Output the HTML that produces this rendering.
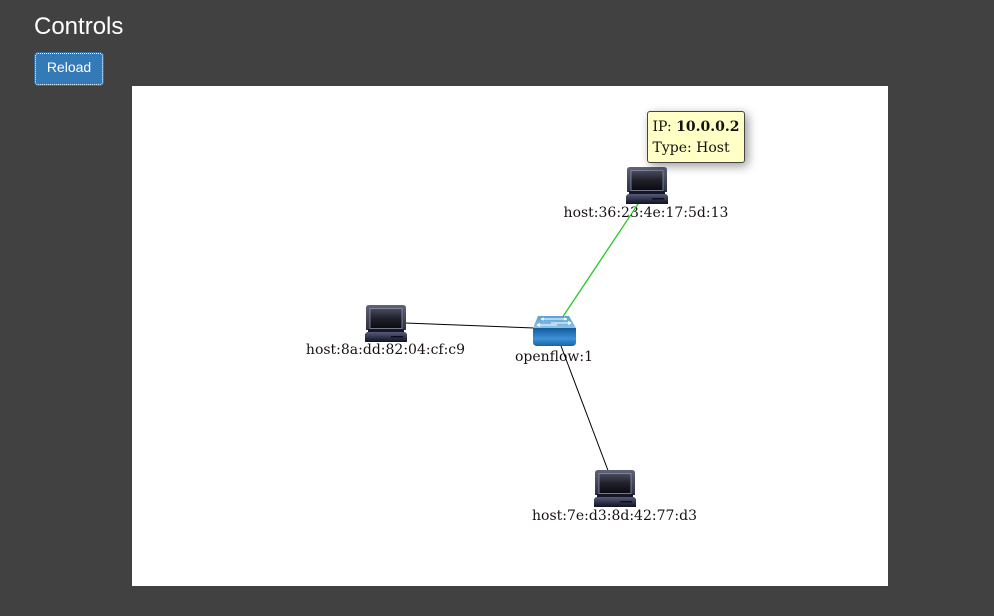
<!DOCTYPE html>
<html><head><meta charset="utf-8"><style>
html,body{margin:0;padding:0;width:994px;height:616px;overflow:hidden;background:#414141}
body{position:relative;font-family:"Liberation Sans",sans-serif}
h3{position:absolute;left:34px;top:14px;margin:0;font-size:24px;line-height:26px;font-weight:400;color:#fff}
.btn{position:absolute;left:34px;top:52px;width:70px;height:34px;box-sizing:border-box;background:#337ab7;border:1px solid #2e6da4;border-radius:4px;color:#fff;font-size:14px;line-height:29px;text-align:center;outline:1px dotted #fff;outline-offset:-2px}
#c{position:absolute;left:132px;top:86px;width:756px;height:500px;background:#fff}
svg{position:absolute;left:0;top:0}
text{font-family:"DejaVu Serif",serif;font-size:14px;fill:#1a1212;text-anchor:middle}
.tip{position:absolute;left:647px;top:111px;width:98px;height:52px;box-sizing:border-box;background:#ffffc6;border:1px solid #444;border-radius:3px;box-shadow:3px 3px 10px rgba(0,0,0,.4);padding:5px 0 0 4.5px;font:14px/21px "DejaVu Serif",serif;color:#111;white-space:nowrap}
</style></head><body>
<h3>Controls</h3>
<div class="btn">Reload</div>
<div id="c"></div>
<svg width="994" height="616" viewBox="0 0 994 616">
<defs>
<linearGradient id="sc" x1="0" y1="0" x2="0" y2="1"><stop offset="0" stop-color="#4a4d60"/><stop offset=".5" stop-color="#1f2029"/><stop offset="1" stop-color="#0a0a12"/></linearGradient>
<linearGradient id="bd" x1="0" y1="0" x2="0" y2="1"><stop offset="0" stop-color="#5f6379"/><stop offset="1" stop-color="#2c2e42"/></linearGradient>
<linearGradient id="ba" x1="0" y1="0" x2="0" y2="1"><stop offset="0" stop-color="#555a75"/><stop offset="1" stop-color="#101224"/></linearGradient>
<linearGradient id="sw" x1="0" y1="0" x2="0" y2="1"><stop offset="0" stop-color="#135b9c"/><stop offset=".6" stop-color="#3b92d8"/><stop offset="1" stop-color="#1b639f"/></linearGradient>
<linearGradient id="st" x1="0" y1="0" x2="0" y2="1"><stop offset="0" stop-color="#5ba0d5"/><stop offset="1" stop-color="#8cc2e6"/></linearGradient>
<g id="h">
<path d="M-17-19h34q3 0 3 3v22h-40v-22q0-3 3-3z" fill="url(#bd)"/>
<rect x="-16" y="-15.500" width="32" height="20" fill="url(#sc)" stroke="#8d90a3" stroke-width=".8"/>
<rect x="-18" y="5" width="36" height="3" fill="#15162a"/>
<path d="M-19 8h38l2 2v8h-42v-8z" fill="url(#ba)"/>
<rect x="5" y="12" width="12" height="1.500" fill="#0c0d18"/>
</g>
</defs>
<text x="646" y="217">host:36:23:4e:17:5d:13</text>
<text x="385.500" y="354">host:8a:dd:82:04:cf:c9</text>
<text x="614.500" y="520">host:7e:d3:8d:42:77:d3</text>
<text x="554" y="361">openflow:1</text>
<line x1="646" y1="192" x2="554" y2="330" stroke="#22c822" stroke-width="1.300"/>
<line x1="386" y1="322.300" x2="554" y2="328.800" stroke="#000" stroke-width="1"/>
<line x1="555" y1="330" x2="615" y2="489" stroke="#000" stroke-width="1"/>
<use href="#h" x="647" y="186"/>
<use href="#h" x="386" y="324"/>
<use href="#h" x="615" y="489"/>
<g>
<path d="M533 328h43v14q0 4-4 4h-35q-4 0-4-4z" fill="url(#sw)"/>
<path d="M538 316h31l7 12h-43z" fill="url(#st)"/>
<g stroke="#fff" stroke-width="1" fill="none">
<path d="M537 325h20M537 325l3-1.500M537 325l3 1.500"/>
<path d="M551 323h20M571 323l-3-1.500M571 323l-3 1.500"/>
<path d="M541 319h14M541 319l3-1M541 319l3 1"/>
<path d="M553 319h14M567 319l-3-1M567 319l-3 1"/>
</g>
</g>
</svg>
<div class="tip">IP: <b>10.0.0.2</b><br>Type: Host</div>
</body></html>
